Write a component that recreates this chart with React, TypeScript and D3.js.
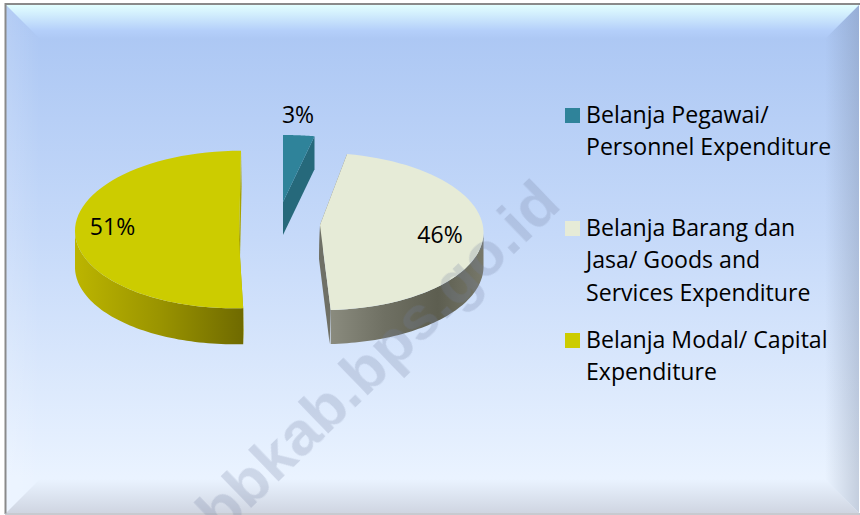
import React from "react";
import * as d3 from "d3";

// ---- data ----
const categories = ["Belanja Pegawai", "Belanja Barang dan Jasa", "Belanja Modal"];
const values = [2.8, 46.4, 50.8];
const labelTexts = ["3%", "46%", "51%"];
const legendLines = [
  ["Belanja Pegawai/", "Personnel Expenditure"],
  ["Belanja Barang dan", "Jasa/ Goods and", "Services Expenditure"],
  ["Belanja Modal/ Capital", "Expenditure"],
];
const watermark = "bbkab.bps.go.id";

// ---- style / layout ----
const W = 860, H = 515;
const FONT = "'Open Sans', sans-serif";
const topColors = ["#2f839a", "#e6ebd7", "#cccc00"];
const sideColors = ["#26697b", "#6f7066", "#a8a300"];
const wallStops = [
  [["0%", "#26697b"], ["100%", "#26697b"]],
  [["0%", "#8a8b7e"], ["35%", "#6f7063"], ["70%", "#5d5e50"], ["100%", "#77786a"]],
  [["0%", "#bcb500"], ["50%", "#9a9400"], ["100%", "#6f6a00"]],
];
const geom = [
  { cx: 283, cy: 214, rx: 180, ry: 79, lean: 0, ax: 283, ay: 202, depth: 33, wdx: 0 },
  { cx: 320.5, cy: 231.5, rx: 163, ry: 78.6, lean: 2, ax: 320, ay: 225, depth: 34, wdx: -1 },
  { cx: 238, cy: 229.5, rx: 163, ry: 78.8, lean: -3, ax: 239, ay: 240, depth: 36, wdx: 0.6 },
];
const labelPos = [[298, 123], [440, 243], [112.5, 235]];
const legendX = 586, swatchX = 565, swatchSize = 15;
const legendFirstBaseline = [123, 236, 348];
const lineStep = 32.3;

const pieGen = d3.pie<number>().sort(null);
const arcs = pieGen(values);

type G = (typeof geom)[number];
const project = (g: G, a: number): [number, number] => [
  g.cx + g.rx * Math.sin(a) - g.lean * Math.cos(a),
  g.cy - g.ry * Math.cos(a),
];
const lineGen = d3.line<[number, number]>();
const sample = (g: G, a0: number, a1: number) =>
  d3.range(0, 61).map((i) => project(g, a0 + ((a1 - a0) * i) / 60));

function topPath(g: G, a0: number, a1: number) {
  return lineGen([[g.ax, g.ay], ...sample(g, a0, a1)]) + "Z";
}
function outerWall(g: G, a0: number, a1: number) {
  const s = Math.max(a0, Math.PI / 2), e = Math.min(a1, (3 * Math.PI) / 2);
  if (s >= e) return null;
  const upper = sample(g, s, e);
  const lower = upper.map(([x, y]) => [x, y + g.depth] as [number, number]).reverse();
  return lineGen([...upper, ...lower]) + "Z";
}
function sideWall(g: G, a: number) {
  const p = project(g, a);
  return (
    lineGen([
      [g.ax, g.ay],
      p,
      [p[0] + g.wdx, p[1] + g.depth],
      [g.ax + g.wdx, g.ay + g.depth],
    ]) + "Z"
  );
}

const pathBox = (g: G, a0: number, a1: number) => {
  const xs = sample(g, Math.max(a0, Math.PI / 2), Math.min(a1, (3 * Math.PI) / 2)).map((p) => p[0]);
  return [d3.min(xs)!, d3.max(xs)!];
};

const L = 6, T = 5, R = 859, B = 513, bv = 34;

export default function App() {
  return (
    <svg
      width={W}
      height={H}
      viewBox={`0 0 ${W} ${H}`}
      style={{ position: "fixed", left: 0, top: 0, display: "block" }}
    >
      <defs>
        <linearGradient id="bg" gradientUnits="userSpaceOnUse" x1="0" y1={T} x2="0" y2={B}>
          <stop offset="0%" stopColor="#a9c5f3" />
          <stop offset="45%" stopColor="#c5d9f9" />
          <stop offset="93%" stopColor="#eaf3ff" />
          <stop offset="100%" stopColor="#eaf3ff" />
        </linearGradient>
        <linearGradient id="bvTop" x1="0" y1="0" x2="0" y2="1">
          <stop offset="0%" stopColor="#e2ffff" />
          <stop offset="30%" stopColor="#d0ecfd" />
          <stop offset="75%" stopColor="#b4cffa" />
          <stop offset="100%" stopColor="#adc8f4" />
        </linearGradient>
        <linearGradient id="bvBottom" x1="0" y1="0" x2="0" y2="1">
          <stop offset="0%" stopColor="#cfd6e3" stopOpacity="0" />
          <stop offset="100%" stopColor="#cfd5e1" stopOpacity="1" />
        </linearGradient>
        <linearGradient id="bvLeft" x1="0" y1="0" x2="1" y2="0">
          <stop offset="0%" stopColor="#ffffff" stopOpacity="0.14" />
          <stop offset="100%" stopColor="#ffffff" stopOpacity="0" />
        </linearGradient>
        <linearGradient id="bvRight" x1="0" y1="0" x2="1" y2="0">
          <stop offset="0%" stopColor="#6b7890" stopOpacity="0" />
          <stop offset="100%" stopColor="#6b7890" stopOpacity="0.3" />
        </linearGradient>
        {arcs.map((a, i) => {
          const [x1, x2] = pathBox(geom[i], a.startAngle, a.endAngle);
          return (
            <linearGradient key={i} id={`wall${i}`} gradientUnits="userSpaceOnUse" x1={x1} y1={0} x2={x2} y2={0}>
              {wallStops[i].map(([o, c]) => (
                <stop key={o} offset={o} stopColor={c} />
              ))}
            </linearGradient>
          );
        })}
        <clipPath id="frame">
          <rect x={L} y={T} width={R - L} height={H - T} />
        </clipPath>
      </defs>

      <rect x={L} y={T} width={R - L} height={B - T} fill="url(#bg)" />
      <polygon points={`${L},${T} ${L + bv},${T + bv} ${L + bv},${B - bv} ${L},${B}`} fill="url(#bvLeft)" />
      <polygon points={`${R},${T} ${R - bv},${T + bv} ${R - bv},${B - bv} ${R},${B}`} fill="url(#bvRight)" />
      <polygon points={`${L},${T} ${R},${T} ${R - bv},${T + bv} ${L + bv},${T + bv}`} fill="url(#bvTop)" />
      <polygon points={`${L},${B} ${R},${B} ${R - bv},${B - bv} ${L + bv},${B - bv}`} fill="url(#bvBottom)" />
      <path d={`M${L - 0.5},${B + 1} V${T - 1} H${R + 1}`} fill="none" stroke="#8a8a8a" strokeWidth={2} />
      <path d={`M${L - 1},${B + 1} H${R + 1}`} fill="none" stroke="#b4b8c0" strokeWidth={1.5} />

      {arcs.map((a, i) => {
        const g = geom[i];
        const wall = outerWall(g, a.startAngle, a.endAngle);
        return (
          <g key={categories[i]}>
            <path d={sideWall(g, a.startAngle)} fill={sideColors[i]} />
            <path d={sideWall(g, a.endAngle)} fill={sideColors[i]} />
            {wall && <path d={wall} fill={`url(#wall${i})`} />}
            <path d={topPath(g, a.startAngle, a.endAngle)} fill={topColors[i]} />
          </g>
        );
      })}

      {labelTexts.map((t, i) => (
        <text key={t} x={labelPos[i][0]} y={labelPos[i][1]} textAnchor="middle" fontFamily={FONT} fontSize={23} fill="#000">
          {t}
        </text>
      ))}

      {legendLines.map((lines, i) => (
        <g key={i}>
          <rect x={swatchX} y={legendFirstBaseline[i] - swatchSize} width={swatchSize} height={swatchSize} fill={topColors[i]} />
          {lines.map((l, j) => (
            <text key={l} x={legendX} y={legendFirstBaseline[i] + j * lineStep} fontFamily={FONT} fontSize={23.1} fill="#000">
              {l}
            </text>
          ))}
        </g>
      ))}

      <g clipPath="url(#frame)">
        <text
          transform="translate(221,537) rotate(-44)"
          fontFamily="'Liberation Sans', sans-serif"
          fontWeight={700}
          fontSize={62}
          fill="#6f7f9f"
          fillOpacity={0.24}
        >
          {watermark}
        </text>
      </g>
    </svg>
  );
}
